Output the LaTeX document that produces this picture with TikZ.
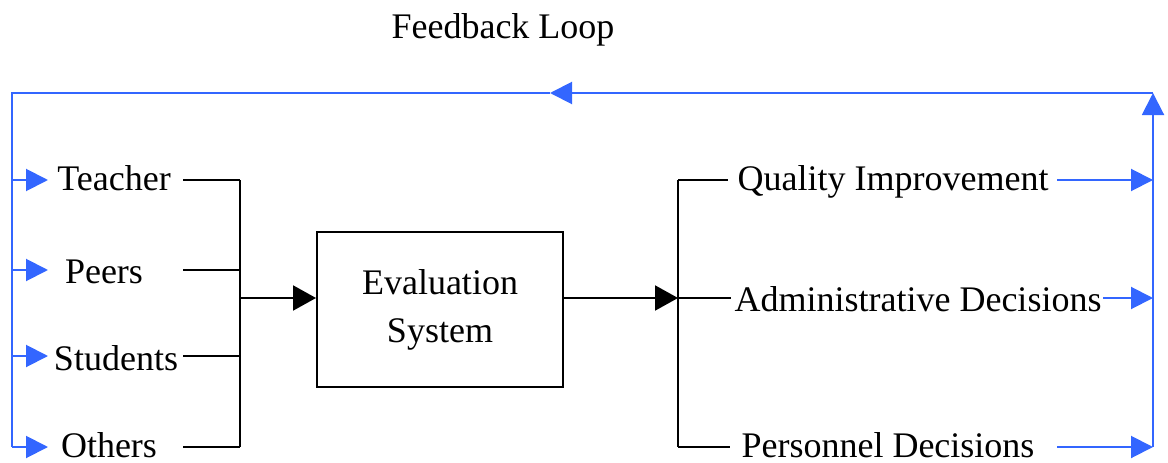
\documentclass[tikz,border=0pt]{standalone}
\usepackage{fontspec}
\setmainfont{Liberation Serif}
\usetikzlibrary{arrows.meta}
\definecolor{fb}{RGB}{51,102,255}
\begin{document}
\begin{tikzpicture}[x=1pt,y=-1pt,
  lbl/.style={font=\fontsize{36}{48}\selectfont, inner sep=0pt, anchor=base},
  blk/.style={line width=2pt, black},
  blu/.style={line width=2pt, fb},
  bhead/.style={-{Triangle[length=23pt,width=25pt]}},
  uhead/.style={-{Triangle[length=22pt,width=22pt]}},
  evalbox/.style={draw, line width=2pt, minimum width=246pt, minimum height=155pt, inner sep=0pt, align=center, font=\fontsize{36}{48}\selectfont}]
\useasboundingbox (0,0) rectangle (1168,463);

% text
\node[lbl] (fbl) at (503,38) {Feedback Loop};
\node[lbl] (teacher) at (114,190) {Teacher};
\node[lbl] (peers) at (104,283) {Peers};
\node[lbl] (students) at (116,370) {Students};
\node[lbl] (others) at (109,457) {Others};
\node[evalbox] (eval) at (440,309.5) {Evaluation\\System};
\node[lbl] (quality) at (893,190) {Quality Improvement};
\node[lbl] (admin) at (918,311) {Administrative Decisions};
\node[lbl] (personnel) at (888,457) {Personnel Decisions};

% feedback frame
\coordinate (tl) at (12,93);
\coordinate (tr) at (1153,93);
\coordinate (bl) at (12,447);
\coordinate (br) at (1153,447);
\coordinate (tm) at (550,93);

\draw[blu, uhead] (br) -- (tr);
\draw[blu, uhead] (tr) -- (tm);
\draw[blu] (tm) -- (tl) -- (bl);

% left feedback inputs
\coordinate (lt) at (12,180);  \coordinate (lt2) at (48,180);
\coordinate (lp) at (12,270);  \coordinate (lp2) at (48,270);
\coordinate (ls) at (12,356);  \coordinate (ls2) at (48,356);
\coordinate (lo) at (12,447);  \coordinate (lo2) at (48,447);
\draw[blu, uhead] (lt) -- (lt2);
\draw[blu, uhead] (lp) -- (lp2);
\draw[blu, uhead] (ls) -- (ls2);
\draw[blu, uhead] (lo) -- (lo2);

% input bus
\coordinate (it) at (183,180); \coordinate (jt) at (240,180);
\coordinate (ip) at (183,270); \coordinate (jp) at (240,270);
\coordinate (is) at (183,356); \coordinate (js) at (240,356);
\coordinate (io) at (183,447); \coordinate (jo) at (240,447);
\coordinate (jm) at (240,298);
\draw[blk] (it) -- (jt);
\draw[blk] (ip) -- (jp);
\draw[blk] (is) -- (js);
\draw[blk] (io) -- (jo);
\draw[blk] (jt) -- (jo);
\draw[blk, bhead] (jm) -- (eval.west |- jm);

% output bus
\coordinate (om) at (678,298);
\coordinate (ot) at (678,180);
\coordinate (ob) at (678,447);
\coordinate (qt) at (728,180);
\coordinate (qa) at (731,298);
\coordinate (qp) at (730,447);
\draw[blk, bhead] (eval.east |- om) -- (om);
\draw[blk] (ot) -- (ob);
\draw[blk] (ot) -- (qt);
\draw[blk] (om) -- (qa);
\draw[blk] (ob) -- (qp);

% right feedback outputs
\coordinate (rq) at (1057,180); \coordinate (rq2) at (1153,180);
\coordinate (ra) at (1103,298); \coordinate (ra2) at (1153,298);
\coordinate (rp) at (1057,447); \coordinate (rp2) at (1153,447);
\draw[blu, uhead] (rq) -- (rq2);
\draw[blu, uhead] (ra) -- (ra2);
\draw[blu, uhead] (rp) -- (rp2);
\end{tikzpicture}
\end{document}
